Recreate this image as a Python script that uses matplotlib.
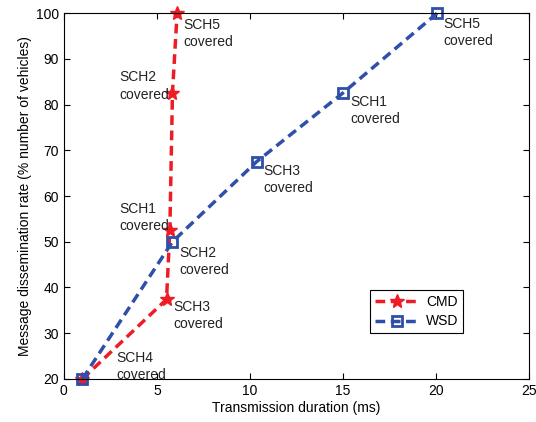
import matplotlib.pyplot as plt

plt.rcParams['font.family'] = ['Liberation Sans', 'DejaVu Sans']

cmd_x = [1.0, 5.52, 5.70, 5.84, 6.09]
cmd_y = [20, 37.4, 52.6, 82.6, 100]
wsd_x = [1.0, 5.84, 10.36, 15.02, 20.07]
wsd_y = [20, 50, 67.5, 82.6, 100]

# label text, x, y (top-left of text block)
notes = [
    ("SCH5\ncovered", 6.40, 99.0),
    ("SCH2\ncovered", 2.98, 87.5),
    ("SCH1\ncovered", 2.98, 58.8),
    ("SCH2\ncovered", 6.22, 49.1),
    ("SCH3\ncovered", 5.91, 37.3),
    ("SCH4\ncovered", 2.80, 26.2),
    ("SCH3\ncovered", 10.70, 67.1),
    ("SCH1\ncovered", 15.40, 82.1),
    ("SCH5\ncovered", 20.40, 99.2),
]

fig = plt.figure(figsize=(5.36, 4.22), dpi=100)
ax = fig.add_axes([0.119, 0.102, 0.868, 0.867])

ax.plot(cmd_x, cmd_y, '--', color='#ee1c25', lw=2.5, marker='*', ms=10,
        mec='#ee1c25', mfc='#ee1c25', label='CMD', dashes=(2.8, 1.6), clip_on=False)
ax.plot(wsd_x, wsd_y, '--', color='#2f4fa8', lw=2.5, marker='s', ms=6.5,
        mec='#2f4fa8', mfc='none', mew=2, label='WSD', dashes=(2.8, 1.6), clip_on=False)

for txt, x, y in notes:
    ax.text(x, y, txt, fontsize=10, va='top', ha='left', color='#222222',
            linespacing=1.3)

ax.set_xlim(0, 25)
ax.set_ylim(20, 100)
ax.set_xticks(range(0, 26, 5))
ax.set_yticks(range(20, 101, 10))
ax.tick_params(direction='in', top=True, right=True, labelsize=10, length=4)
ax.set_xlabel('Transmission duration (ms)', fontsize=10, labelpad=2)
ax.set_ylabel('Message dissemination rate (% number of vehicles)', fontsize=10, labelpad=3)

leg = ax.legend(loc='upper left', bbox_to_anchor=(0.658, 0.243), fontsize=10,
                fancybox=False, edgecolor='black', framealpha=1, borderaxespad=0,
                handlelength=3.2, borderpad=0.35, labelspacing=0.4, handletextpad=0.5)
leg.get_frame().set_linewidth(0.8)

fig.savefig('out.png', dpi=100)
